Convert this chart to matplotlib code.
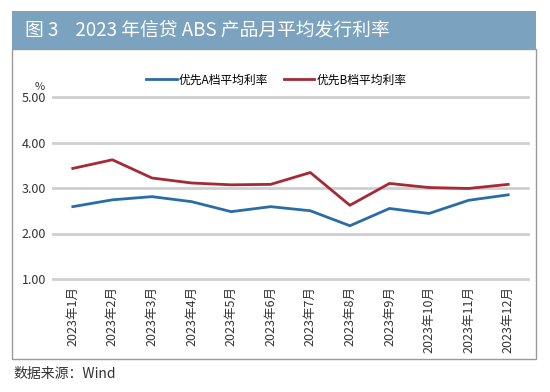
import numpy as np
import matplotlib
matplotlib.use("Agg")
import matplotlib.pyplot as plt
from matplotlib.patches import Rectangle

plt.rcParams['font.family'] = ['Noto Sans CJK SC', 'DejaVu Sans']

months = [f"2023年{m}月" for m in range(1, 13)]
rate_a = [2.59, 2.74, 2.81, 2.70, 2.48, 2.59, 2.50, 2.17, 2.55, 2.44, 2.73, 2.85]
rate_b = [3.43, 3.62, 3.22, 3.11, 3.07, 3.08, 3.34, 2.62, 3.10, 3.01, 2.99, 3.08]
yticks = [1.0, 2.0, 3.0, 4.0, 5.0]

W, H = 550, 392
fig = plt.figure(figsize=(W / 100, H / 100), dpi=100)

# title band + frame
fig.patches.append(Rectangle((12 / W, 1 - 49 / H), 524 / W, 38 / H,
                             transform=fig.transFigure, facecolor='#7ba3bf',
                             edgecolor='none', zorder=0))
fig.patches.append(Rectangle((12 / W, 1 - 359 / H), 524 / W, 310 / H,
                             transform=fig.transFigure, facecolor='none',
                             edgecolor='#9a9a9a', linewidth=1.0, zorder=0))
fig.text(25 / W, 1 - 30 / H, "图 3    2023 年信贷 ABS 产品月平均发行利率",
         color='white', fontsize=13.5, va='center', ha='left')
fig.text(13 / W, 1 - 374 / H, "数据来源：Wind", color='#333333',
         fontsize=10, va='center', ha='left')

ax = fig.add_axes([53 / W, 1 - 279 / H, 475 / W, 182 / H])
x = np.arange(len(months))
ax.plot(x, rate_a, color='#2a6ca8', linewidth=2.0, label='优先A档平均利率')
ax.plot(x, rate_b, color='#a52a35', linewidth=2.0, label='优先B档平均利率')

ax.set_xlim(-0.5, len(months) - 0.5)
ax.set_ylim(1, 5)
ax.set_yticks(yticks)
ax.set_yticklabels([f"{v:.2f}" for v in yticks], fontsize=9, color='#333333')
ax.set_xticks(x)
ax.set_xticklabels(months, rotation=90, fontsize=9, color='#333333')
ax.tick_params(length=0, pad=5)
for s in ax.spines.values():
    s.set_visible(False)
for v in yticks:
    ax.axhline(v, color='#cfcfcf', linewidth=2, zorder=0, clip_on=False)
ax.text(-0.027, 5.12, "%", transform=ax.get_yaxis_transform(), fontsize=8,
        color='#333333', ha='center', va='bottom')

ax.legend(loc='lower center', bbox_to_anchor=(0.47, 1.0), ncol=2, frameon=False,
          fontsize=8.5, handlelength=2.6, columnspacing=1.3, handletextpad=0.2)

fig.savefig("out.png", dpi=100)
